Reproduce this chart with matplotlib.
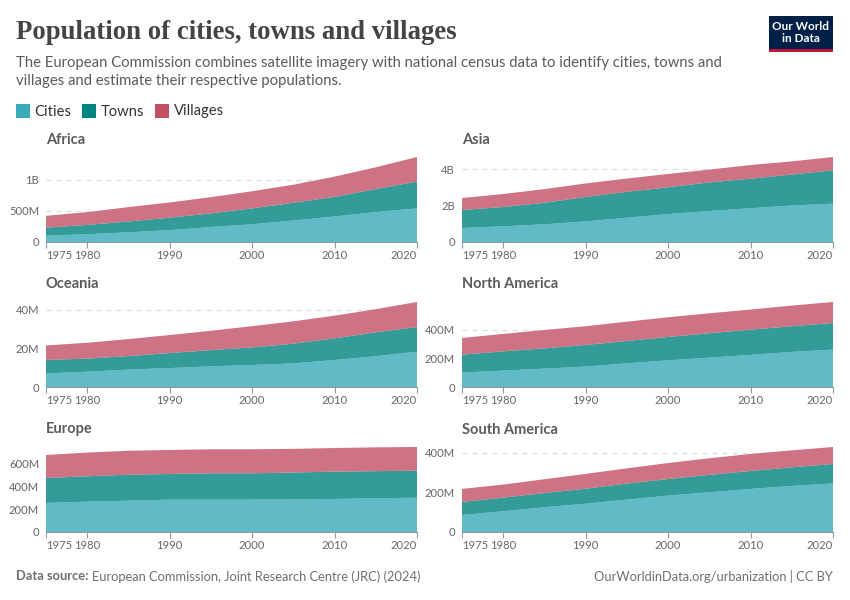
import matplotlib
matplotlib.use("Agg")
import matplotlib.pyplot as plt
from matplotlib.patches import Rectangle

plt.rcParams['font.family'] = ['Lato', 'DejaVu Sans']

W, H = 850, 600
years = [1975, 1980, 1985, 1990, 1995, 2000, 2005, 2010, 2015, 2020]

# Values per settlement class, in millions
africa_cities = [100, 125, 155, 190, 240, 285, 345, 410, 480, 540]
africa_towns = [130, 150, 175, 200, 220, 255, 285, 315, 370, 430]
africa_villages = [190, 205, 230, 245, 260, 275, 290, 325, 350, 395]

asia_cities = [770, 860, 970, 1130, 1330, 1530, 1700, 1850, 2000, 2100]
asia_towns = [980, 1060, 1180, 1340, 1420, 1470, 1570, 1620, 1700, 1830]
asia_villages = [660, 710, 750, 740, 730, 730, 700, 750, 720, 730]

oceania_cities = [7, 7.9, 9, 9.8, 10.7, 11.4, 12.2, 14, 15.9, 18.3]
oceania_towns = [7, 6.8, 7, 7.8, 8.4, 9.1, 10.2, 11.2, 12.4, 12.7]
oceania_villages = [7.5, 8.2, 8.8, 9.3, 10, 11, 11.6, 11.7, 12, 13]

namerica_cities = [101, 115, 129, 143, 166, 187, 206, 225, 246, 262]
namerica_towns = [126, 135, 142, 152, 157, 164, 171, 177, 180, 187]
namerica_villages = [117, 122, 129, 131, 135, 138, 140, 141, 145, 147]

europe_cities = [255, 266, 275, 284, 284, 284, 286, 290, 296, 301]
europe_towns = [219, 223, 228, 225, 231, 231, 236, 240, 238, 237]
europe_villages = [202, 208, 210, 211, 211, 211, 208, 207, 209, 208]

samerica_cities = [86, 105, 125, 143, 164, 184, 201, 218, 233, 246]
samerica_towns = [66, 69, 72, 76, 81, 84, 88, 91, 94, 98]
samerica_villages = [66, 66, 70, 75, 77, 81, 84, 86, 86, 86]

panel_names = ['Africa', 'Asia', 'Oceania', 'North America', 'Europe', 'South America']
panel_series = [
    (africa_cities, africa_towns, africa_villages),
    (asia_cities, asia_towns, asia_villages),
    (oceania_cities, oceania_towns, oceania_villages),
    (namerica_cities, namerica_towns, namerica_villages),
    (europe_cities, europe_towns, europe_villages),
    (samerica_cities, samerica_towns, samerica_villages),
]
panel_ticks = [
    [0, 500, 1000], [0, 2000, 4000], [0, 20, 40],
    [0, 200, 400], [0, 200, 400, 600], [0, 200, 400],
]
panel_ticklabels = [
    ['0', '500M', '1B'], ['0', '2B', '4B'], ['0', '20M', '40M'],
    ['0', '200M', '400M'], ['0', '200M', '400M', '600M'], ['0', '200M', '400M'],
]
class_names = ['Cities', 'Towns', 'Villages']
class_colors = ['#38AABA', '#00847E', '#C15065']
xticks = [1975, 1980, 1990, 2000, 2010, 2020]

fig = plt.figure(figsize=(W / 100, H / 100), dpi=100, facecolor='white')


def T(x, y, s, **kw):
    return fig.text(x / W, 1 - y / H, s, **kw)


T(16, 32.5, 'Population of cities, towns and villages', family='Liberation Serif',
  weight='bold', fontsize=19.3, color='#444444', va='center')
T(16, 62.5, 'The European Commission combines satellite imagery with national census data to identify cities, towns and',
  fontsize=10.74, color='#5b5b5b', va='center')
T(16, 81, 'villages and estimate their respective populations.',
  fontsize=10.74, color='#5b5b5b', va='center')

# logo
fig.patches.append(Rectangle((769 / W, 1 - 52 / H), 64 / W, 36 / H, transform=fig.transFigure,
                             facecolor='#002147', edgecolor='none'))
fig.patches.append(Rectangle((769 / W, 1 - 52 / H), 64 / W, 3 / H, transform=fig.transFigure,
                             facecolor='#C0143C', edgecolor='none'))
T(801, 27, 'Our World', fontsize=8.5, weight='bold', color='white', ha='center', va='center')
T(801, 38.5, 'in Data', fontsize=8.5, weight='bold', color='white', ha='center', va='center')

# legend
for x, tx, name, col in zip([16, 82, 155], [34.5, 101, 174], class_names, class_colors):
    fig.patches.append(Rectangle((x / W, 1 - 118 / H), 14 / W, 14 / H, transform=fig.transFigure,
                                 facecolor=col, edgecolor='none'))
    T(tx, 111.5, name, fontsize=10.6, color='#333333', va='center')

lefts = [46, 462]
bases = [242, 387, 532]
pw, ph = 371, 85

for i, (name, series, ticks, labels) in enumerate(zip(panel_names, panel_series, panel_ticks, panel_ticklabels)):
    col, row = i % 2, i // 2
    l, b = lefts[col], bases[row]
    ax = fig.add_axes([l / W, 1 - b / H, pw / W, ph / H])
    ax.set_xlim(1975, 2020)
    total_max = max(sum(v) for v in zip(*series))
    ax.set_ylim(0, total_max)
    for s in ['top', 'right', 'left']:
        ax.spines[s].set_visible(False)
    ax.spines['bottom'].set_color('#999999')
    ax.spines['bottom'].set_linewidth(0.8)
    ax.patch.set_alpha(0)
    # opaque white underlay keeps the grid from showing through the translucent areas
    ax.stackplot(years, *series, colors=['white'] * 3, linewidth=0, zorder=2)
    ax.stackplot(years, *series, colors=class_colors, alpha=0.8, linewidth=0, zorder=3)
    for t in ticks[1:]:
        ax.axhline(t, color='#dddddd', lw=0.9, ls=(0, (4, 4)), zorder=1)
    ax.set_yticks(ticks)
    ax.set_yticklabels(labels, fontsize=8.1, color='#666666')
    ax.tick_params(axis='y', length=0, pad=5)
    ax.set_xticks(xticks)
    ax.set_xticklabels([str(y) for y in xticks], fontsize=8.1, color='#666666')
    ax.tick_params(axis='x', length=4.5, width=0.8, color='#999999', pad=1.5)
    tl = ax.get_xticklabels()
    tl[0].set_ha('left')
    tl[-1].set_ha('right')
    T(l, b - 102.5, name, fontsize=10.5, weight='bold', color='#5b5b5b', va='center')

T(16, 576.5, 'Data source:', fontsize=9.3, weight='bold', color='#6e6e6e', va='center')
T(92, 576.5, 'European Commission, Joint Research Centre (JRC) (2024)', fontsize=9.3, color='#6e6e6e', va='center')
T(833, 576.5, 'OurWorldinData.org/urbanization | CC BY', fontsize=9.3, color='#6e6e6e', va='center', ha='right')

fig.savefig('out.png', dpi=100)
